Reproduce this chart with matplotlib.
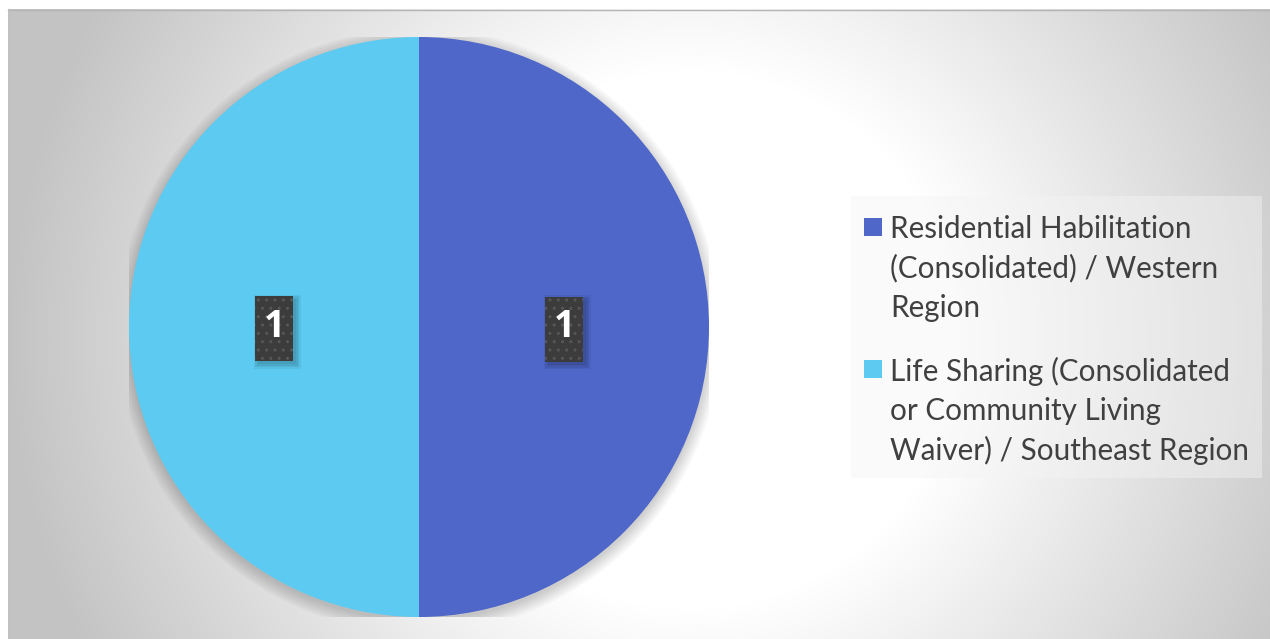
import matplotlib.pyplot as plt
from matplotlib.patches import Rectangle, Circle
import numpy as np

# данные
labels = ["Residential Habilitation\n(Consolidated) / Western\nRegion",
          "Life Sharing (Consolidated\nor Community Living\nWaiver) / Southeast Region"]
values = [1, 1]
colors = ["#4e67c8", "#5dcbf1"]

W, H = 1270, 639
fig = plt.figure(figsize=(W / 100, H / 100), dpi=100)

# фон с радиальным градиентом
bg = fig.add_axes([0, 0, 1, 1])
bg.axis("off")
xs = np.arange(8, W) + 0.5
ys = np.arange(9, H) + 0.5
X, Y = np.meshgrid(xs, ys)
d = np.hypot(X - 690, Y - 340)
g = (255 - np.clip((d - 270) * 0.145, 0, 60)) / 255
img = np.dstack([g, g, g])
bg.imshow(img, extent=(8, W, H, 9), interpolation="bilinear", aspect="auto")
bg.plot([8, W], [9.5, 9.5], color="#b4b4b4", lw=1)
bg.plot([8.5, 8.5], [9, H], color="#c0c0c0", lw=1)
bg.set_xlim(0, W)
bg.set_ylim(H, 0)

# легенда (вручную, маркер по первой строке)
bg.add_patch(Rectangle((851, 196), 411, 282, facecolor="#f4f4f4", alpha=0.45,
                       edgecolor="none"))
text_y = [227, 369]
for lab, col, ty in zip(labels, colors, text_y):
    bg.add_patch(Rectangle((864, ty - 9), 18, 18, facecolor=col, edgecolor="none"))
    bg.text(890, ty - 12, lab, fontsize=21.3, family="Lato", color="#404040",
            va="top", ha="left", linespacing=1.47)

# круговая диаграмма
cx, cy, r = 419, 639 - 327, 290
ax = fig.add_axes([(cx - r) / W, (cy - r) / H, 2 * r / W, 2 * r / H])
ax.axis("off")

# мягкая тень
for i in range(8):
    ax.add_patch(Circle((0, -0.012), 1 + i * 0.006, facecolor="black",
                        alpha=0.025, edgecolor="none", zorder=0))

total = sum(values)
wedges, texts, autotexts = ax.pie(values, colors=colors, startangle=90,
                                  counterclock=False, radius=1,
                                  autopct=lambda p: f"{p * total / 100:.0f}",
                                  pctdistance=0.5,
                                  wedgeprops=dict(linewidth=0),
                                  textprops=dict(color="white", fontsize=27,
                                                 fontweight="bold",
                                                 family="Open Sans"))
ax.set_xlim(-1, 1)
ax.set_ylim(-1, 1)

# тёмные плашки под подписями (38x65 px) с мягкой тенью
bw, bh = 38 / r, 65 / r
for t in autotexts:
    t.set_zorder(6)
    x, y = t.get_position()
    y = y - 2 / r
    for k in range(4):
        grow = k * 1.5 / r
        ax.add_patch(Rectangle((x - bw / 2 + 3 / r - grow, y - bh / 2 - 3 / r - grow),
                               bw + 2 * grow, bh + 2 * grow,
                               facecolor="black", alpha=0.06, edgecolor="none",
                               zorder=4))
    ax.add_patch(Rectangle((x - bw / 2, y - bh / 2), bw, bh,
                           facecolor="#3c3c3c", edgecolor="#575757",
                           linewidth=0, hatch="..", zorder=5))

fig.savefig("out.png", dpi=100)
